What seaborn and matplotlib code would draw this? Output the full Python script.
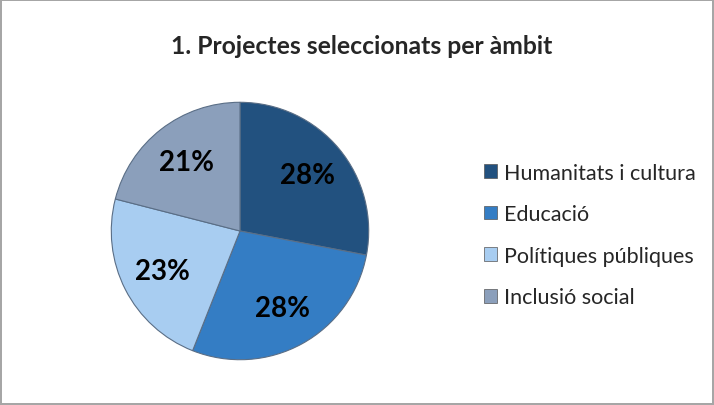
import matplotlib
matplotlib.use('Agg')
import matplotlib.pyplot as plt
from matplotlib.patches import Patch
import seaborn as sns

# data
categories = ['Humanitats i cultura', 'Educació', 'Polítiques públiques', 'Inclusió social']
shares = [28, 28, 23, 21]
colors = ['#22517F', '#347DC4', '#A8CDF1', '#8B9FBB']
title = '1. Projectes seleccionats per àmbit'

sns.set_theme(style='white')
plt.rcParams['font.family'] = ['Lato', 'DejaVu Sans']

fig = plt.figure(figsize=(7.14, 4.06), dpi=100)
fig.patch.set_edgecolor('#A6A6A6')
fig.patch.set_linewidth(1.5)

ax = fig.add_axes([110 / 714, 44 / 406, 260 / 714, 260 / 406])
wedges, texts, autotexts = ax.pie(
    shares, colors=colors, startangle=90, counterclock=False,
    autopct='%d%%', pctdistance=0.68,
    wedgeprops=dict(edgecolor='#5A6E86', linewidth=0.8),
    textprops=dict(fontsize=20, fontweight='bold', color='black'))
ax.set_xlim(-1.01, 1.01)
ax.set_ylim(-1.01, 1.01)
ax.set_aspect('equal')

fig.text(0.507, 1 - 47 / 406, title, ha='center', va='center',
         fontsize=17.8, fontweight='bold')

handles = [Patch(facecolor=c, edgecolor='#555555', linewidth=0.5) for c in colors]
fig.legend(handles, categories, loc='center left',
           bbox_to_anchor=(465 / 714, 1 - 236 / 406), frameon=False,
           fontsize=15.5, handlelength=0.6, handleheight=0.6,
           handletextpad=0.3, labelspacing=1.0)

fig.savefig('out.png', dpi=100)
